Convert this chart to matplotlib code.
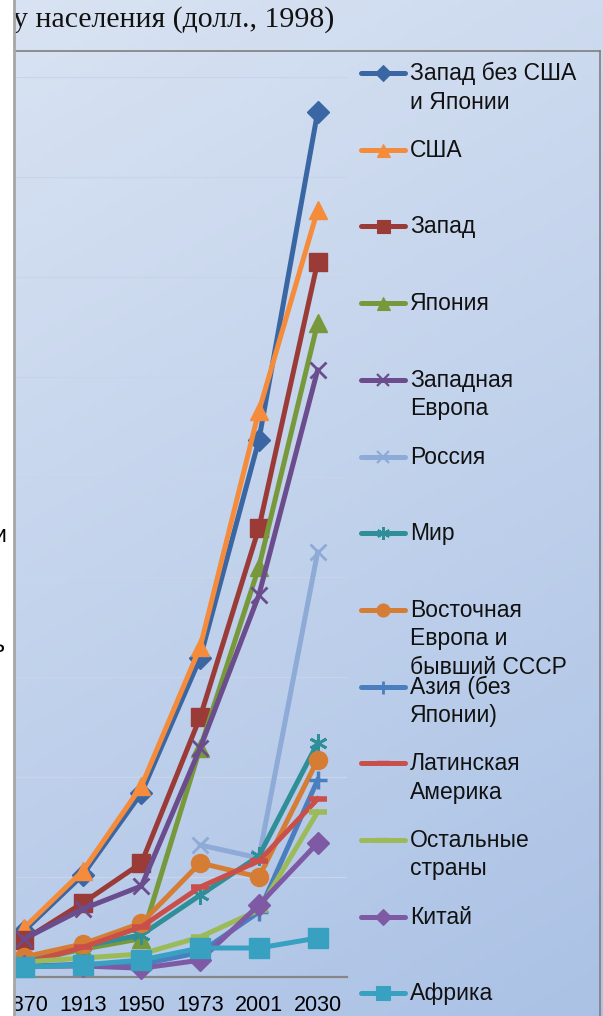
import numpy as np
import matplotlib
matplotlib.use('Agg')
import matplotlib.pyplot as plt
from matplotlib.patches import Rectangle
from matplotlib.lines import Line2D

nan = np.nan

years = ['1870', '1913', '1950', '1973', '2001', '2030']

west_ex = [2300, 5100, 9200, 15950, 26850, 43250]
usa = [2450, 5300, 9550, 16500, 28300, 38350]
west = [1850, 3700, 5700, 13000, 22450, 35750]
japan = [740, 1390, 1920, 11450, 20500, 32700]
w_europe = [1900, 3400, 4550, 11450, 19100, 30350]
russia = [nan, nan, nan, 6600, 5950, 21250]
world = [870, 1530, 2110, 4090, 6050, 11700]
e_europe = [1000, 1650, 2700, 5700, 5000, 10850]
asia = [540, 640, 640, 1230, 3250, 9850]
latam = [680, 1480, 2510, 4500, 5800, 8900]
rest = [750, 950, 1150, 2000, 3350, 8250]
china = [530, 550, 440, 840, 3600, 6700]
africa = [500, 600, 850, 1450, 1450, 1950]

labels = ['Запад без США\nи Японии', 'США', 'Запад', 'Япония',
          'Западная\nЕвропа', 'Россия', 'Мир',
          'Восточная\nЕвропа и\nбывший СССР', 'Азия (без\nЯпонии)',
          'Латинская\nАмерика', 'Остальные\nстраны', 'Китай', 'Африка']
series = [west_ex, usa, west, japan, w_europe, russia, world, e_europe,
          asia, latam, rest, china, africa]

# colour, marker, marker size, marker edge width
styles = [
    ('#3a67a3', 'D', 11, 1),
    ('#f58c3c', '^', 13, 1),
    ('#9b3b38', 's', 13, 1),
    ('#77993c', '^', 13, 1),
    ('#6b4c8c', 'x', 12, 2),
    ('#8eaad6', 'x', 12, 2),
    ('#2f8f99', (6, 2, 0), 13, 2),
    ('#d67d35', 'o', 13, 1),
    ('#4a7ebf', '+', 13, 2.5),
    ('#c9504a', '_', 13, 4),
    ('#9bbb59', '_', 13, 4),
    ('#7d5aa3', 'D', 11, 1),
    ('#38a1c1', 's', 14, 1),
]

W, H = 603, 1016
fig = plt.figure(figsize=(W / 100, H / 100), dpi=100)

# background in pixel coordinates
bg = fig.add_axes([0, 0, 1, 1])
bg.set_xlim(0, W)
bg.set_ylim(H, 0)
bg.axis('off')
yy, xx = np.mgrid[0:1:200j, 0:1:120j]
t = 0.75 * yy + 0.25 * xx
c0 = np.array([0.85, 0.89, 0.95])
c1 = np.array([0.67, 0.76, 0.90])
grad = c0[None, None, :] * (1 - t[..., None]) + c1[None, None, :] * t[..., None]
bg.imshow(grad, extent=[14, W, H, 0], aspect='auto', zorder=0)
bg.plot([14, 600], [51, 51], color='#7f7f7f', lw=1.2, zorder=1)
bg.plot([600, 600], [51, H], color='#7f7f7f', lw=1.2, zorder=1)

bg.text(334, 20, 'ВВП на душу населения (долл., 1998)', ha='right', va='center',
        fontsize=21.5, family='Liberation Serif', color='#111111', zorder=2)

# main plot
x0, x1, ytop, ybot = 14, 347, 77, 977
ax = fig.add_axes([x0 / W, 1 - ybot / H, (x1 - x0) / W, (ybot - ytop) / H])
ax.patch.set_alpha(0)
ax.set_xlim(-0.17, 5.5)
ax.set_ylim(0, 45000)
for s in ['left', 'right', 'top']:
    ax.spines[s].set_visible(False)
ax.spines['bottom'].set_color('#868686')
ax.spines['bottom'].set_linewidth(1.6)
ax.set_yticks(np.arange(5000, 45001, 5000))
ax.yaxis.grid(True, color='#c8d4ea', lw=0.9)
ax.set_axisbelow(True)
ax.tick_params(axis='y', left=False, labelleft=False)
ax.set_xticks(range(len(years)))
ax.set_xticklabels(years, fontsize=15.5, family='Liberation Sans')
ax.tick_params(axis='x', length=0, pad=13)

xs = np.arange(len(years))
for i, (vals, (col, mk, ms, mew)) in enumerate(zip(series, styles)):
    ax.plot(xs, vals, color=col, lw=3.6, marker=mk, ms=ms, mew=mew,
            mec=col, mfc=col, zorder=3 + i, clip_on=False)

# legend
ly0, ldy = 73, 76.7
for i, (lab, (col, mk, ms, mew)) in enumerate(zip(labels, styles)):
    y = ly0 + i * ldy
    bg.add_line(Line2D([361, 383, 405], [y, y, y], color=col, lw=3.6, marker=mk,
                       markevery=[1], ms=ms * 0.72, mew=mew * 0.8, mec=col, mfc=col,
                       solid_capstyle='round', zorder=3))
    bg.text(410, y - 11, lab, ha='left', va='top', fontsize=16.5,
            family='Liberation Sans', linespacing=1.3, color='#111111', zorder=3)

# white strip on the left (on top of everything), with cut text of a neighbouring element
ov = fig.add_axes([0, 0, 1, 1])
ov.set_xlim(0, W)
ov.set_ylim(H, 0)
ov.axis('off')
ov.patch.set_alpha(0)
ov.add_patch(Rectangle((0, 0), 13, H, color='white', zorder=1))
ov.plot([13.5, 13.5], [0, H], color='#a6a6a6', lw=2, zorder=2)
ov.text(-7, 536, 'и', ha='left', va='center', fontsize=16.5,
        family='Liberation Sans', zorder=3)
ov.text(-8, 646, 'ь', ha='left', va='center', fontsize=16.5,
        family='Liberation Sans', zorder=3)

fig.savefig('out.png', dpi=100)
